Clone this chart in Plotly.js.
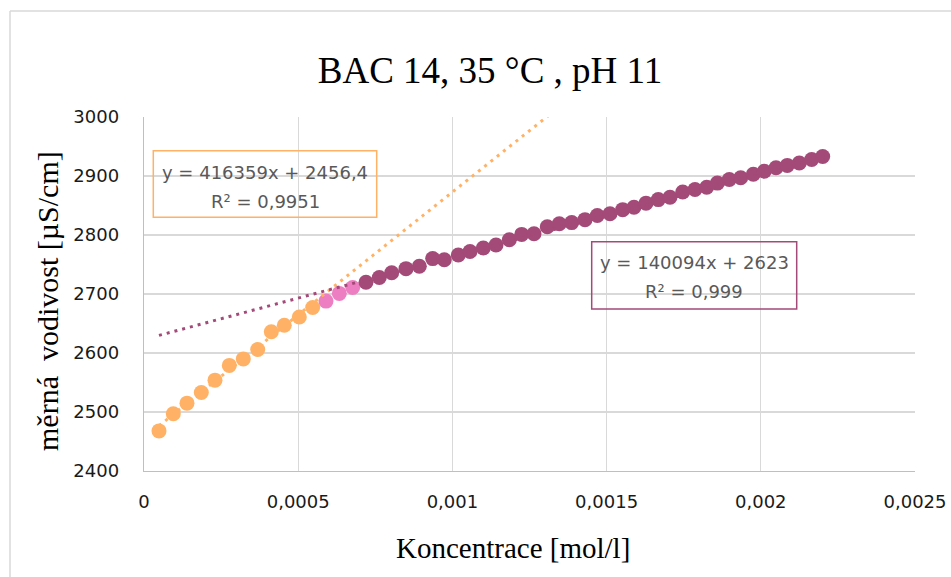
<!DOCTYPE html>
<html>
<head>
<meta charset="utf-8">
<script src="https://cdn.plot.ly/plotly-3.0.1.min.js"></script>
<style>
  html, body { margin: 0; padding: 0; background: #ffffff; }
  #chart { width: 951px; height: 577px; }
</style>
</head>
<body>
<div id="chart"></div>
<script>
// ---- data ----
const orangeX = [0.0000486, 0.0000950, 0.0001394, 0.0001858, 0.0002302, 0.0002766,
                 0.0003220, 0.0003687, 0.0004128, 0.0004549, 0.0005036, 0.0005470];
const orangeY = [2468, 2497, 2515, 2533, 2554, 2579, 2590, 2606, 2636, 2647, 2661, 2677];

const pinkX = [0.0005901, 0.0006333, 0.0006767];
const pinkY = [2688, 2701, 2711];

const purpleX = [0.0007198, 0.0007630, 0.0008032, 0.0008495, 0.0008927, 0.0009361, 0.0009737,
                 0.0010191, 0.0010571, 0.0011002, 0.0011414, 0.0011845, 0.0012247, 0.0012646,
                 0.0013077, 0.0013466, 0.0013869, 0.0014300, 0.0014699, 0.0015110, 0.0015522,
                 0.0015888, 0.0016278, 0.0016676, 0.0017056, 0.0017468, 0.0017866, 0.0018246,
                 0.0018590, 0.0018979, 0.0019348, 0.0019757, 0.0020113, 0.0020493, 0.0020859,
                 0.0021248, 0.0021650, 0.0022007];
const purpleY = [2720, 2728, 2736, 2743, 2747, 2760, 2758, 2766, 2772, 2778, 2783, 2792,
                 2801, 2802, 2814, 2819, 2821, 2826, 2833, 2836, 2843, 2847, 2854, 2860,
                 2864, 2873, 2877, 2881, 2888, 2894, 2897, 2903, 2908, 2914, 2918, 2922,
                 2928, 2933];

// trendlines (slope, intercept) and their x spans
const orangeTrend = [416359, 2456.4];
const orangeTrendX = [0.0000486, 0.0014];
const purpleTrend = [140094, 2623];
const purpleTrendX = [0.0000486, 0.0022007];

const titleText = 'BAC 14, 35 °C , pH 11';
const xTitle = 'Koncentrace [mol/l]';
const yTitle = 'měrná\u00a0 vodivost [µS/cm]';
const orangeEq = ['y = 416359x + 2456,4', 'R² = 0,9951'];
const purpleEq = ['y = 140094x + 2623', 'R² = 0,999'];

// ---- styling ----
const C_OR = '#FFB266';
const C_PK = '#EE7EC2';
const C_PU = '#A44A78';
const W = 951, H = 577;
const L = 144, R = 915, T = 117, B = 471;
const px = v => (v - L) / (R - L);
const py = v => (B - v) / (B - T);

const trendY = (c, xs) => xs.map(x => c[0] * x + c[1]);

const traces = [
  { x: orangeX, y: orangeY, mode: 'markers', type: 'scatter',
    marker: { color: C_OR, size: 15 }, hoverinfo: 'skip' },
  { x: pinkX, y: pinkY, mode: 'markers', type: 'scatter',
    marker: { color: C_PK, size: 15 }, hoverinfo: 'skip' },
  { x: purpleX, y: purpleY, mode: 'markers', type: 'scatter',
    marker: { color: C_PU, size: 15 }, hoverinfo: 'skip' },
  { x: orangeTrendX, y: trendY(orangeTrend, orangeTrendX), mode: 'lines', type: 'scatter',
    line: { color: C_OR, width: 3, dash: '3px,5px' }, hoverinfo: 'skip' },
  { x: purpleTrendX, y: trendY(purpleTrend, purpleTrendX), mode: 'lines', type: 'scatter',
    line: { color: C_PU, width: 3, dash: '3px,5px' }, hoverinfo: 'skip' }
];

const tickFont = { family: 'DejaVu Sans', size: 18, color: '#1a1a1a' };
const eqFont = { family: 'DejaVu Sans', size: 18, color: '#595959' };
const serif = 'Liberation Serif';

const annotations = [
  { text: xTitle, xref: 'paper', yref: 'paper', x: px(513), y: py(548),
    xanchor: 'center', yanchor: 'middle', showarrow: false,
    font: { family: serif, size: 29, color: '#000' } },
  { text: yTitle, xref: 'paper', yref: 'paper', x: px(47), y: py(301),
    xanchor: 'center', yanchor: 'middle', showarrow: false, textangle: -90,
    font: { family: serif, size: 30, color: '#000' } },
  { text: orangeEq[0], xref: 'paper', yref: 'paper', x: px(265), y: py(172),
    xanchor: 'center', yanchor: 'middle', showarrow: false, font: eqFont },
  { text: orangeEq[1], xref: 'paper', yref: 'paper', x: px(265), y: py(201),
    xanchor: 'center', yanchor: 'middle', showarrow: false, font: eqFont },
  { text: purpleEq[0], xref: 'paper', yref: 'paper', x: px(694), y: py(262),
    xanchor: 'center', yanchor: 'middle', showarrow: false, font: eqFont },
  { text: purpleEq[1], xref: 'paper', yref: 'paper', x: px(694), y: py(291),
    xanchor: 'center', yanchor: 'middle', showarrow: false, font: eqFont }
];

const shapes = [
  { type: 'rect', xref: 'paper', yref: 'paper', x0: px(153.3), x1: px(376.7), y0: py(150.7), y1: py(217.3),
    line: { color: C_OR, width: 1.5 }, fillcolor: 'rgba(0,0,0,0)' },
  { type: 'rect', xref: 'paper', yref: 'paper', x0: px(591.7), x1: px(796.7), y0: py(241.7), y1: py(309),
    line: { color: C_PU, width: 1.5 }, fillcolor: 'rgba(0,0,0,0)' },
  { type: 'line', xref: 'paper', yref: 'paper', x0: px(10), x1: px(960), y0: py(11), y1: py(11),
    line: { color: '#d9d9d9', width: 1.5 } },
  { type: 'line', xref: 'paper', yref: 'paper', x0: px(10), x1: px(10), y0: py(11), y1: py(590),
    line: { color: '#d9d9d9', width: 1.5 } }
];

const layout = {
  width: W, height: H, autosize: false,
  paper_bgcolor: '#ffffff', plot_bgcolor: '#ffffff',
  margin: { l: L, r: W - R, t: T, b: H - B, pad: 0 },
  showlegend: false,
  separators: ', ',
  title: { text: titleText, x: 490 / W, xanchor: 'center', xref: 'container',
           y: 1 - 70 / H, yanchor: 'middle', yref: 'container',
           font: { family: serif, size: 37, color: '#000' } },
  xaxis: { range: [0, 0.0025], tick0: 0, dtick: 0.0005, tickformat: '.4~f',
           showgrid: true, gridcolor: '#d9d9d9', gridwidth: 1.3,
           showline: true, linecolor: '#bfbfbf', linewidth: 1.3, zeroline: false,
           ticks: '', ticklabelstandoff: 14, tickfont: tickFont },
  yaxis: { range: [2400, 3000], tick0: 2400, dtick: 100,
           showgrid: true, gridcolor: '#d9d9d9', gridwidth: 1.3,
           showline: true, linecolor: '#bfbfbf', linewidth: 1.3, zeroline: false,
           ticks: '', ticklabelstandoff: 20, tickfont: tickFont },
  annotations: annotations,
  shapes: shapes
};

Plotly.newPlot('chart', traces, layout, { staticPlot: true, displayModeBar: false });
</script>
</body>
</html>
